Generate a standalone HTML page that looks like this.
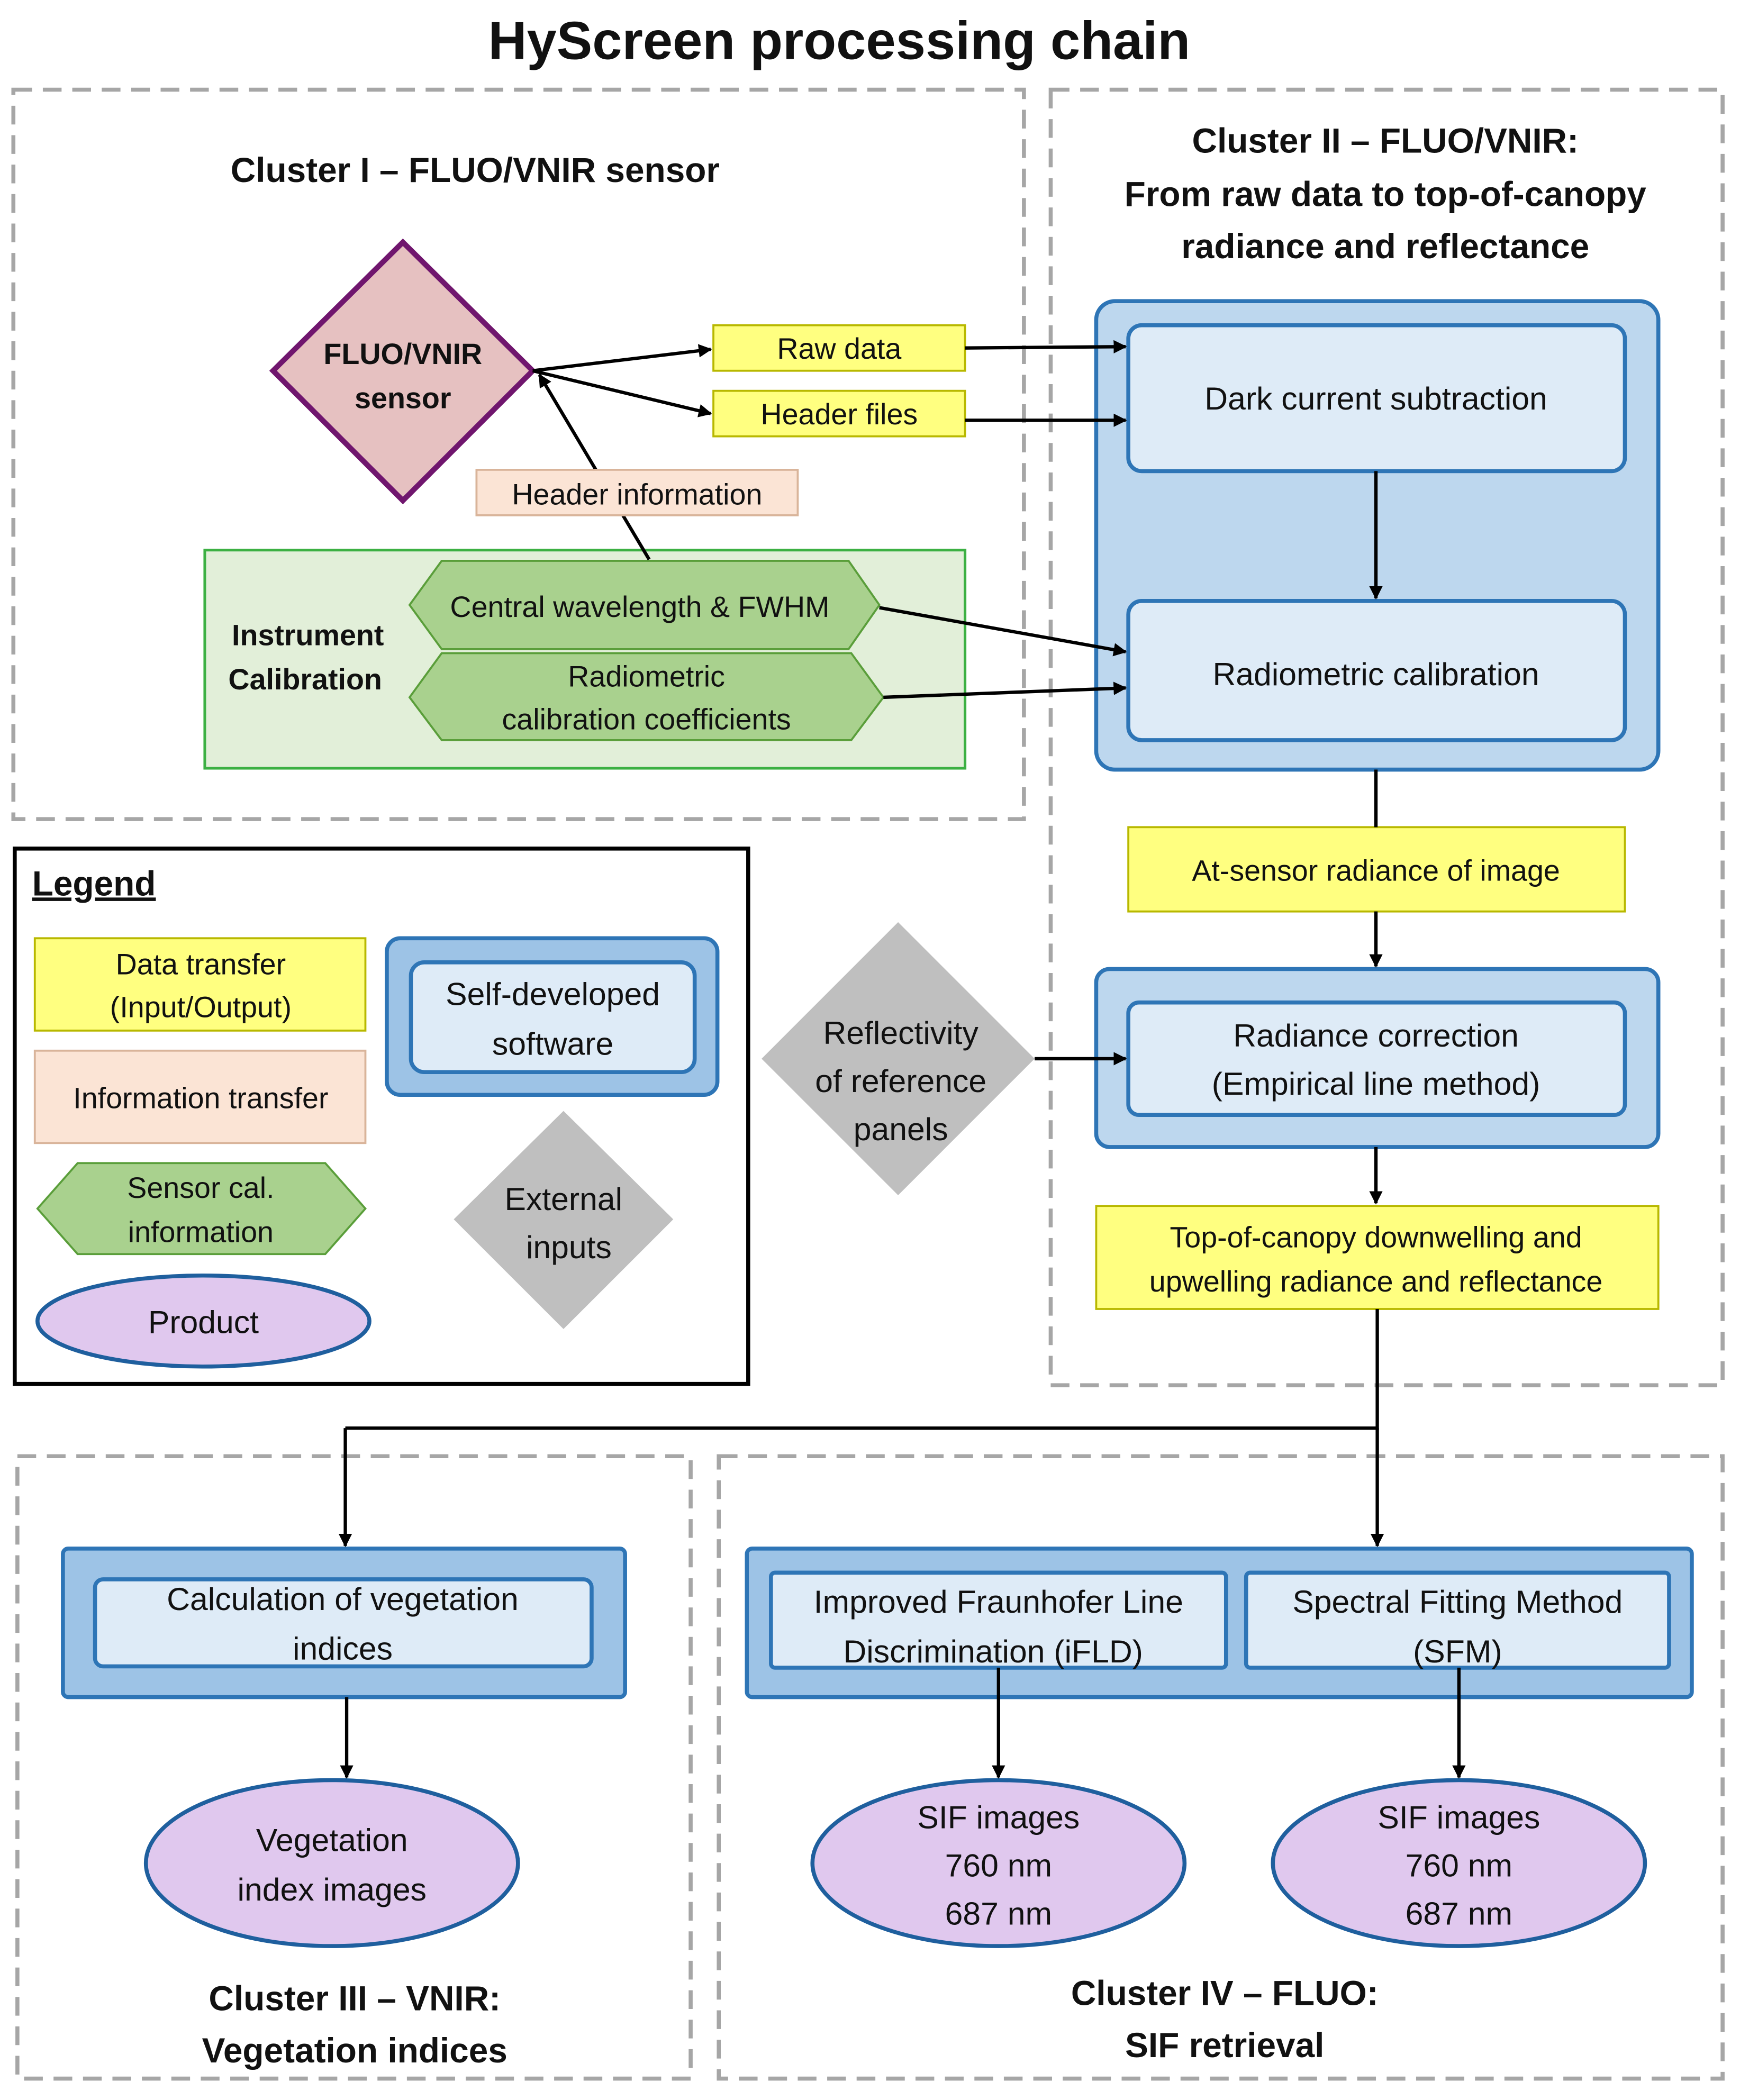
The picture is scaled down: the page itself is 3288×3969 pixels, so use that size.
<!DOCTYPE html>
<html><head><meta charset="utf-8"><style>
html,body{margin:0;padding:0;background:#fff}
svg{display:block}
text{font-family:"Liberation Sans",sans-serif;fill:#111}
</style></head><body>
<svg width="3288" height="3969" viewBox="0 0 1300 1569" preserveAspectRatio="none" xmlns="http://www.w3.org/2000/svg">
<defs>
<marker id="a" markerWidth="10" markerHeight="10" refX="9" refY="5" orient="auto" markerUnits="userSpaceOnUse">
<path d="M0,0 L10,5 L0,10 z" fill="#000"/></marker>
</defs>
<rect width="1300" height="1569" fill="#fff"/>
<text x="627" y="44" font-size="40" font-weight="bold" text-anchor="middle">HyScreen processing chain</text>

<g fill="none" stroke="#a6a6a6" stroke-width="3" stroke-dasharray="14,8">
<rect x="10" y="67" width="755" height="545"/>
<rect x="785" y="67" width="502" height="968"/>
<rect x="13" y="1088" width="503" height="465"/>
<rect x="537" y="1088" width="750" height="465"/>
</g>

<text x="355" y="136" font-size="26" font-weight="bold" text-anchor="middle">Cluster I – FLUO/VNIR sensor</text>
<g font-size="26" font-weight="bold" text-anchor="middle">
<text x="1035" y="114">Cluster II – FLUO/VNIR:</text>
<text x="1035" y="154">From raw data to top-of-canopy</text>
<text x="1035" y="193">radiance and reflectance</text>
<text x="265" y="1502">Cluster III – VNIR:</text>
<text x="265" y="1541">Vegetation indices</text>
<text x="915" y="1498">Cluster IV – FLUO:</text>
<text x="915" y="1537">SIF retrieval</text>
</g>

<polygon points="301,181 398,277 301,374 204,277" fill="#e6c1c1" stroke="#70166e" stroke-width="4"/>
<text x="301" y="272" font-size="22" font-weight="bold" text-anchor="middle">FLUO/VNIR</text>
<text x="301" y="305" font-size="22" font-weight="bold" text-anchor="middle">sensor</text>

<g fill="#ffff80" stroke="#b8b800" stroke-width="1.5">
<rect x="533" y="243" width="188" height="34"/>
<rect x="533" y="292" width="188" height="34"/>
<rect x="843" y="618" width="371" height="63"/>
<rect x="819" y="901" width="420" height="77"/>
<rect x="26" y="701" width="247" height="69"/>
</g>
<g font-size="22" text-anchor="middle">
<text x="627" y="268">Raw data</text>
<text x="627" y="317">Header files</text>
<text x="1028" y="658">At-sensor radiance of image</text>
<text x="1028" y="932">Top-of-canopy downwelling and</text>
<text x="1028" y="965">upwelling radiance and reflectance</text>
<text x="150" y="728">Data transfer</text>
<text x="150" y="760">(Input/Output)</text>
</g>

<rect x="26" y="785" width="247" height="69" fill="#fbe4d5" stroke="#d9b49a" stroke-width="1.5"/>
<text x="150" y="828" font-size="22" text-anchor="middle">Information transfer</text>

<rect x="153" y="411" width="568" height="163" fill="#e2efd9" stroke="#3cb043" stroke-width="2"/>
<text x="230" y="482" font-size="22" font-weight="bold" text-anchor="middle">Instrument</text>
<text x="228" y="515" font-size="22" font-weight="bold" text-anchor="middle">Calibration</text>
<g fill="#a9d18e" stroke="#5a9e3a" stroke-width="1.5">
<polygon points="306,452 330,419 634,419 657,452 634,485 330,485"/>
<polygon points="306,521 330,488 636,488 660,521 636,553 330,553"/>
<polygon points="28,903 58,869 243,869 273,903 243,937 58,937"/>
</g>
<g font-size="22" text-anchor="middle">
<text x="478" y="461">Central wavelength &amp; FWHM</text>
<text x="483" y="513">Radiometric</text>
<text x="483" y="545">calibration coefficients</text>
<text x="150" y="895">Sensor cal.</text>
<text x="150" y="928">information</text>
</g>

<g fill="#bdd7ee" stroke="#2e75b6" stroke-width="3">
<rect x="819" y="225" width="420" height="350" rx="14"/>
<rect x="819" y="724" width="420" height="133" rx="10"/>
<rect x="47" y="1157" width="420" height="111" rx="4" fill="#9dc3e6"/>
<rect x="558" y="1157" width="706" height="111" rx="4" fill="#9dc3e6"/>
<rect x="289" y="701" width="247" height="117" rx="10" fill="#9dc3e6"/>
</g>
<g fill="#deebf7" stroke="#2e75b6" stroke-width="3">
<rect x="843" y="243" width="371" height="109" rx="10"/>
<rect x="843" y="449" width="371" height="104" rx="10"/>
<rect x="843" y="749" width="371" height="84" rx="8"/>
<rect x="71" y="1180" width="371" height="65" rx="6"/>
<rect x="576" y="1175" width="340" height="71" rx="3"/>
<rect x="931" y="1175" width="316" height="71" rx="3"/>
<rect x="307" y="719" width="212" height="82" rx="10"/>
</g>
<g font-size="24" text-anchor="middle">
<text x="1028" y="306">Dark current subtraction</text>
<text x="1028" y="512">Radiometric calibration</text>
<text x="1028" y="782">Radiance correction</text>
<text x="1028" y="818">(Empirical line method)</text>
<text x="256" y="1203">Calculation of vegetation</text>
<text x="256" y="1240">indices</text>
<text x="746" y="1205">Improved Fraunhofer Line</text>
<text x="742" y="1242">Discrimination (iFLD)</text>
<text x="1089" y="1205">Spectral Fitting Method</text>
<text x="1089" y="1242">(SFM)</text>
<text x="413" y="751">Self-developed</text>
<text x="413" y="788">software</text>
</g>

<polygon points="671,689 773,791 671,893 569,791" fill="#bfbfbf"/>
<polygon points="421,830 503,911 421,993 339,911" fill="#bfbfbf"/>
<g font-size="24" text-anchor="middle">
<text x="673" y="780">Reflectivity</text>
<text x="673" y="816">of reference</text>
<text x="673" y="852">panels</text>
<text x="421" y="904">External</text>
<text x="425" y="940">inputs</text>
</g>

<g fill="#e0c8ee" stroke="#1f5f9e" stroke-width="3">
<ellipse cx="248" cy="1392" rx="139" ry="62"/>
<ellipse cx="746" cy="1392" rx="139" ry="62"/>
<ellipse cx="1090" cy="1392" rx="139" ry="62"/>
<ellipse cx="152" cy="987" rx="124" ry="34"/>
</g>
<g font-size="24" text-anchor="middle">
<text x="248" y="1383">Vegetation</text>
<text x="248" y="1420">index images</text>
<text x="746" y="1366">SIF images</text>
<text x="746" y="1402">760 nm</text>
<text x="746" y="1438">687 nm</text>
<text x="1090" y="1366">SIF images</text>
<text x="1090" y="1402">760 nm</text>
<text x="1090" y="1438">687 nm</text>
<text x="152" y="996">Product</text>
</g>

<rect x="11" y="634" width="548" height="400" fill="none" stroke="#000" stroke-width="3"/>
<text x="24" y="669" font-size="26" font-weight="bold" text-decoration="underline">Legend</text>

<g stroke="#000" stroke-width="2.5" fill="none" marker-end="url(#a)">
<line x1="398" y1="277" x2="531" y2="261"/>
<line x1="398" y1="277" x2="531" y2="309"/>
<line x1="485" y1="418" x2="403" y2="280"/>
<line x1="721" y1="260" x2="841" y2="259"/>
<line x1="721" y1="314" x2="841" y2="314"/>
<line x1="1028" y1="352" x2="1028" y2="447"/>
<line x1="657" y1="454" x2="841" y2="487"/>
<line x1="660" y1="521" x2="841" y2="514"/>
<line x1="1028" y1="681" x2="1028" y2="722"/>
<line x1="773" y1="791" x2="841" y2="791"/>
<line x1="1028" y1="857" x2="1028" y2="899"/>
<line x1="258" y1="1067" x2="258" y2="1155"/>
<line x1="1029" y1="1067" x2="1029" y2="1155"/>
<line x1="259" y1="1268" x2="259" y2="1328"/>
<line x1="746" y1="1246" x2="746" y2="1328"/>
<line x1="1090" y1="1246" x2="1090" y2="1328"/>
</g>
<g stroke="#000" stroke-width="2.5" fill="none">
<line x1="1028" y1="575" x2="1028" y2="618"/>
<polyline points="1029,978 1029,1067 258,1067"/>
</g>

<rect x="356" y="351" width="240" height="34" fill="#fbe4d5" stroke="#d9b49a" stroke-width="1.5"/>
<text x="476" y="377" font-size="22" text-anchor="middle">Header information</text>
</svg>
</body></html>
